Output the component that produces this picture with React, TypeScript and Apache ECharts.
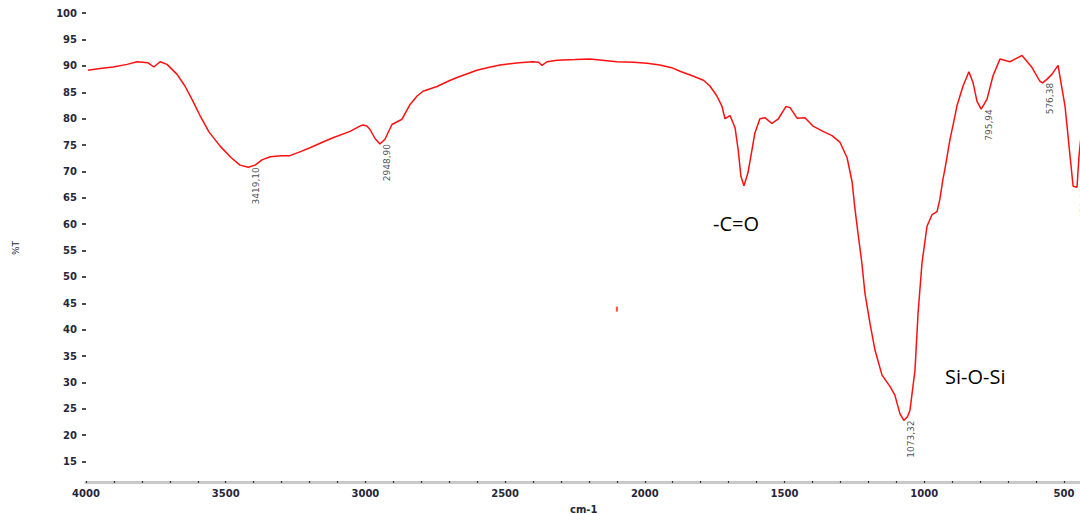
import React, { useEffect, useRef } from "react";
import * as echarts from "echarts";

// Wavenumber (cm-1) and transmittance (%T)
const wavenumbers = [
  3993, 3950, 3903, 3853, 3817, 3778, 3757, 3735, 3710, 3674, 3646, 3621, 3592, 3560, 3520, 3480, 3449, 3419,
  3395, 3370, 3341, 3300, 3270, 3230, 3198, 3160, 3116, 3055, 3020, 3009, 2995, 2984, 2965, 2948, 2930, 2905,
  2869, 2840, 2815, 2794, 2744, 2700, 2672, 2601, 2560, 2518, 2450, 2400, 2380, 2368, 2350, 2314, 2250, 2196,
  2100, 2040, 1992, 1946, 1900, 1874, 1828, 1790, 1767, 1742, 1724, 1713, 1695, 1677, 1666, 1656, 1645, 1631,
  1615, 1606, 1588, 1570, 1545, 1523, 1495, 1480, 1455, 1427, 1398, 1362, 1330, 1301, 1276, 1258, 1248, 1237,
  1223, 1212, 1194, 1176, 1151, 1122, 1105, 1087, 1073, 1060, 1051, 1033, 1022, 1008, 990, 972, 954, 944, 933,
  926, 908, 890, 883, 861, 840, 825, 811, 796, 775, 754, 729, 693, 650, 614, 586, 576, 560, 543, 521, 496, 478,
  467, 453, 446, 438,
];
const transmittance = [
  89.2, 89.5, 89.8, 90.3, 90.8, 90.6, 89.8, 90.8, 90.3, 88.4, 86.2, 83.7, 80.6, 77.5, 74.8, 72.6, 71.2, 70.8,
  71.2, 72.2, 72.8, 73.0, 73.0, 73.8, 74.5, 75.4, 76.4, 77.6, 78.6, 78.8, 78.6, 78.0, 76.2, 75.2, 76.1, 78.9,
  79.9, 82.7, 84.3, 85.2, 86.1, 87.2, 87.8, 89.2, 89.7, 90.2, 90.6, 90.8, 90.7, 90.1, 90.8, 91.1, 91.2, 91.3,
  90.8, 90.7, 90.5, 90.2, 89.6, 89.0, 88.1, 87.3, 86.2, 84.3, 82.4, 80.0, 80.6, 78.3, 74.2, 69.1, 67.3, 69.7,
  74.5, 77.3, 80.0, 80.2, 79.1, 79.9, 82.3, 82.1, 80.1, 80.2, 78.6, 77.6, 76.8, 75.5, 72.6, 68.0, 63.0, 58.3,
  52.6, 46.9, 41.2, 36.1, 31.4, 29.2, 27.6, 24.1, 22.8, 23.5, 24.7, 32.3, 43.1, 52.6, 59.6, 61.8, 62.4, 64.7, 68.5,
  70.4, 76.0, 80.5, 82.4, 86.2, 88.9, 86.8, 83.3, 81.8, 83.7, 88.1, 91.3, 90.8, 92.0, 89.7, 87.1, 86.8, 87.5, 88.4, 90.1, 82.4, 72.9,
  67.2, 67.0, 72.9, 77.0,
];

// Peak annotations
const peakWavenumbers = [3419.1, 2948.9, 1073.32, 795.94, 576.38, 453.2];
const peakTransmittance = [70.8, 75.2, 22.8, 81.8, 86.8, 67.0];
const peakLabels = ["3419,10", "2948,90", "1073,32", "795,94", "576,38", "453,20"];

// Stray mark on the spectrum plot
const strayMark = [[2100, 43.9]];

// Axis ticks
const xTickLabels = [500, 1000, 1500, 2000, 2500, 3000, 3500, 4000];
const yTickLabels = [15, 20, 25, 30, 35, 40, 45, 50, 55, 60, 65, 70, 75, 80, 85, 90, 95, 100];

const axisFont = { fontFamily: "DejaVu Sans", fontWeight: "bold" as const, fontSize: 10, color: "#26263a" };

export default function App() {
  const ref = useRef<HTMLDivElement>(null);
  useEffect(() => {
    if (!ref.current) return;
    const chart = echarts.init(ref.current, null, { renderer: "svg" });
    const lineData = wavenumbers.map((w, i) => [w, transmittance[i]]);
    const peakData = peakWavenumbers.map((w, i) => ({ value: [w, peakTransmittance[i]], name: peakLabels[i] }));
    chart.setOption({
      animation: false,
      backgroundColor: "#ffffff",
      grid: { left: 86, right: 36.4, top: 13.2, bottom: 31.3, containLabel: false },
      xAxis: {
        type: "value",
        inverse: true,
        min: 0,
        max: 4000,
        interval: 100,
        axisLine: { show: true, lineStyle: { color: "#c9c9c9", width: 3 } },
        axisTick: { show: true, inside: true, length: 1.5, lineStyle: { color: "#000", width: 1.2 } },
        axisLabel: { ...axisFont, margin: 6, customValues: xTickLabels, formatter: (v: number) => String(v) },
        splitLine: { show: false },
      },
      yAxis: [
        {
          type: "value",
          min: 11,
          max: 100,
          interval: 1,
          axisLine: { show: true, lineStyle: { color: "#c9c9c9", width: 3 } },
          axisTick: { show: true, inside: true, length: 1.5, lineStyle: { color: "#000", width: 1.2 } },
          axisLabel: { ...axisFont, margin: 9, customValues: yTickLabels, formatter: (v: number) => String(v) },
          splitLine: { show: false },
        },
        {
          type: "value",
          min: 11,
          max: 100,
          position: "left",
          axisLine: { show: false },
          axisTick: { show: true, inside: false, length: 4, lineStyle: { color: "#111", width: 1.5 }, customValues: yTickLabels },
          axisLabel: { show: false },
          splitLine: { show: false },
          name: "%T",
          nameLocation: "middle",
          nameRotate: 90,
          nameGap: 66,
          nameTextStyle: { fontFamily: "DejaVu Sans", fontSize: 9, color: "#26263a" },
        },
      ],
      series: [
        {
          type: "line",
          data: lineData,
          showSymbol: false,
          symbol: "none",
          lineStyle: { color: "#ff1010", width: 1.5 },
          silent: true,
        },
        {
          type: "scatter",
          data: peakData,
          symbolSize: 0,
          silent: true,
          label: {
            show: true,
            formatter: (p: any) => p.name,
            position: "inside",
            rotate: 90,
            align: "right",
            verticalAlign: "top",
            padding: [3, 0, 0, 0],
            fontFamily: "DejaVu Sans",
            fontSize: 9,
            color: "#1a1a2a",
          },
        },
        {
          type: "scatter",
          data: strayMark,
          symbol: "rect",
          symbolSize: [2, 5],
          itemStyle: { color: "#ff2020" },
          silent: true,
        },
      ],
      graphic: [
        {
          type: "text",
          left: 713,
          top: 213,
          style: { text: "-C=O", fontFamily: "Open Sans", fontSize: 20, fill: "#000" },
        },
        {
          type: "text",
          left: 945,
          top: 366,
          style: { text: "Si-O-Si", fontFamily: "Open Sans", fontSize: 20, fill: "#000" },
        },
        {
          type: "text",
          left: 570,
          top: 504,
          style: { text: "cm-1", fontFamily: "DejaVu Sans", fontWeight: "bold", fontSize: 10, fill: "#26263a" },
        },
      ],
    });
    return () => chart.dispose();
  }, []);
  return (
    <div style={{ position: "fixed", left: 0, top: 0, width: 1080, height: 514, overflow: "hidden", background: "#fff" }}>
      <div ref={ref} style={{ width: 1240, height: 514 }} />
    </div>
  );
}
